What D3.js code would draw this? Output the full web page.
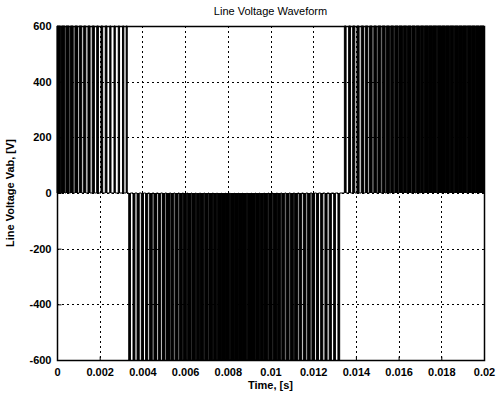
<!DOCTYPE html>
<html>
<head>
<meta charset="utf-8">
<script src="https://cdn.jsdelivr.net/npm/d3@7"></script>
<style>
  body { margin: 0; background: #fff; }
  text { font-family: "Liberation Sans", Arial, sans-serif; fill: #000; }
</style>
</head>
<body>
<svg id="chart" width="497" height="402"></svg>
<script>
// pulse edges, [on, off] in ms
const posPulsesA = [
  [0.00, 0.17], [0.21, 0.37], [0.42, 0.57], [0.63, 0.76], [0.84, 0.96], [1.04, 1.16],
  [1.25, 1.35], [1.45, 1.55], [1.65, 1.75], [1.86, 1.94], [2.06, 2.14], [2.26, 2.34],
  [2.47, 2.53], [2.67, 2.73], [2.87, 2.93], [3.07, 3.13], [3.24, 3.29]
];
const negPulses = [
  [3.36, 3.44], [3.56, 3.65], [3.75, 3.85], [3.95, 4.05], [4.15, 4.25], [4.34, 4.46],
  [4.54, 4.66], [4.74, 4.86], [4.94, 5.06], [5.13, 5.27], [5.33, 5.47], [5.53, 5.67],
  [5.73, 5.87], [5.92, 6.08], [6.12, 6.28], [6.32, 6.48], [6.52, 6.68], [6.72, 6.88],
  [6.92, 7.08], [7.12, 7.28], [7.32, 7.48], [7.51, 7.69], [7.71, 7.89], [7.91, 8.09],
  [8.11, 8.29], [8.31, 8.49], [8.51, 8.69], [8.71, 8.89], [8.91, 9.09], [9.11, 9.29],
  [9.32, 9.48], [9.51, 9.69], [9.72, 9.88], [9.92, 10.08], [10.12, 10.28], [10.32, 10.48],
  [10.53, 10.67], [10.73, 10.87], [10.93, 11.07], [11.13, 11.27], [11.34, 11.46], [11.54, 11.66],
  [11.74, 11.86], [11.94, 12.06], [12.15, 12.25], [12.35, 12.45], [12.55, 12.65], [12.75, 12.85],
  [12.96, 13.04], [13.16, 13.24]
];
const posPulsesB = [
  [13.46, 13.54], [13.66, 13.75], [13.85, 13.95], [14.05, 14.15], [14.25, 14.36], [14.44, 14.56],
  [14.64, 14.76], [14.84, 14.96], [15.03, 15.17], [15.23, 15.37], [15.43, 15.57], [15.63, 15.77],
  [15.82, 15.98], [16.02, 16.18], [16.22, 16.38], [16.42, 16.58], [16.62, 16.78], [16.82, 16.98],
  [17.02, 17.18], [17.21, 17.39], [17.41, 17.59], [17.61, 17.79], [17.81, 17.99], [18.01, 18.19],
  [18.21, 18.39], [18.41, 18.59], [18.61, 18.79], [18.81, 18.99], [19.01, 19.19], [19.21, 19.39],
  [19.41, 19.59], [19.61, 19.79], [19.81, 20.00]
];
const dcLink = 600;

const xTicks = [0, 0.002, 0.004, 0.006, 0.008, 0.01, 0.012, 0.014, 0.016, 0.018, 0.02];
const xTickLabels = ["0", "0.002", "0.004", "0.006", "0.008", "0.01", "0.012", "0.014", "0.016", "0.018", "0.02"];
const yTicks = [-600, -400, -200, 0, 200, 400, 600];
const yTickLabels = ["-600", "-400", "-200", "0", "200", "400", "600"];

const width = 497, height = 402;
const margin = { top: 26, right: 13, bottom: 42, left: 57 };
const svg = d3.select("#chart");

const x = d3.scaleLinear().domain([0, 0.02]).range([margin.left, width - margin.right]);
const y = d3.scaleLinear().domain([-600, 600]).range([height - margin.bottom, margin.top]);

// step series built from the pulse lists
let pts = [];
const addPulses = (list, v) => {
  list.forEach(p => {
    pts.push([p[0] / 1000, 0], [p[0] / 1000, v], [p[1] / 1000, v], [p[1] / 1000, 0]);
  });
};
addPulses(posPulsesA, dcLink);
addPulses(negPulses, -dcLink);
addPulses(posPulsesB, dcLink);
pts.sort((a, b) => a[0] - b[0]);

// grid
const grid = svg.append("g")
  .attr("stroke", "#000")
  .attr("stroke-width", 1)
  .attr("stroke-dasharray", "2,3");

grid.selectAll(".gx")
  .data(xTicks.slice(1, -1))
  .enter().append("line")
  .attr("x1", d => Math.round(x(d)) + 0.5).attr("x2", d => Math.round(x(d)) + 0.5)
  .attr("y1", y(600)).attr("y2", y(-600));

grid.selectAll(".gy")
  .data(yTicks.slice(1, -1))
  .enter().append("line")
  .attr("x1", x(0)).attr("x2", x(0.02))
  .attr("y1", d => Math.round(y(d)) + 0.5).attr("y2", d => Math.round(y(d)) + 0.5);

// waveform
const area = d3.area()
  .x(d => x(d[0]))
  .y0(y(0))
  .y1(d => y(d[1]));

svg.append("path")
  .datum(pts)
  .attr("d", area)
  .attr("fill", "#000");

const line = d3.line()
  .x(d => x(d[0]))
  .y(d => y(d[1]));

svg.append("path")
  .datum([[0, 0]].concat(pts, [[0.02, 0]]))
  .attr("d", line)
  .attr("fill", "none")
  .attr("stroke", "#000")
  .attr("stroke-width", 1);

// axes box
svg.append("rect")
  .attr("x", x(0) + 0.5).attr("y", y(600) + 0.5)
  .attr("width", x(0.02) - x(0)).attr("height", y(-600) - y(600))
  .attr("fill", "none")
  .attr("stroke", "#000")
  .attr("stroke-width", 1.5);

const xAxis = d3.axisBottom(x).tickValues(xTicks).tickSize(-4)
  .tickFormat((d, i) => xTickLabels[i]).tickPadding(8);
const yAxis = d3.axisLeft(y).tickValues(yTicks).tickSize(-4)
  .tickFormat((d, i) => yTickLabels[i]).tickPadding(6);

const gx = svg.append("g")
  .attr("transform", `translate(0,${y(-600) + 0.5})`)
  .call(xAxis);
const gy = svg.append("g")
  .attr("transform", `translate(${x(0) + 0.5},0)`)
  .call(yAxis);

[gx, gy].forEach(g => {
  g.select(".domain").remove();
  g.selectAll("line").attr("stroke", "#000");
  g.selectAll("text")
    .attr("font-size", 11)
    .attr("font-weight", "bold")
    .attr("font-family", "Liberation Sans, Arial, sans-serif")
    .attr("fill", "#000");
});

svg.append("text")
  .attr("x", (x(0) + x(0.02)) / 2)
  .attr("y", 15)
  .attr("text-anchor", "middle")
  .attr("font-size", 11)
  .text("Line Voltage Waveform");

svg.append("text")
  .attr("x", (x(0) + x(0.02)) / 2)
  .attr("y", 389)
  .attr("text-anchor", "middle")
  .attr("font-size", 11)
  .attr("font-weight", "bold")
  .text("Time, [s]");

svg.append("text")
  .attr("transform", `translate(14,${y(0)}) rotate(-90)`)
  .attr("text-anchor", "middle")
  .attr("font-size", 11)
  .attr("font-weight", "bold")
  .text("Line Voltage Vab, [V]");
</script>
</body>
</html>
